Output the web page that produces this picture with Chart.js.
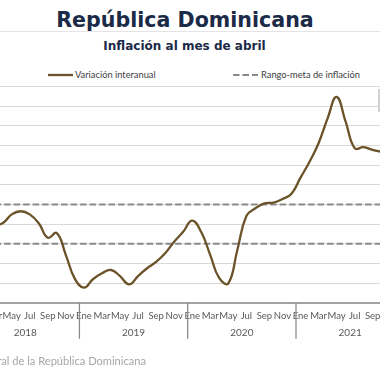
<!DOCTYPE html>
<html>
<head>
<meta charset="utf-8">
<script src="https://cdn.jsdelivr.net/npm/chart.js@4/dist/chart.umd.min.js"></script>
<style>
  html, body { margin: 0; padding: 0; background: #ffffff; }
  body { width: 380px; height: 380px; position: relative; overflow: hidden; }
  #chart { position: absolute; left: -40px; top: 0; }
  .title { position: absolute; left: 0; width: 370px; text-align: center; font-family: 'DejaVu Sans', sans-serif; font-weight: bold; color: #1b2a47; white-space: nowrap; }
  #t1 { top: 7.8px; font-size: 20.6px; line-height: 24px; }
  #t2 { top: 38.8px; font-size: 12px; line-height: 14px; left: 0; width: 369px; }
  #rule { position: absolute; left: 0; top: 31px; width: 380px; height: 1px; background: #e4e4e4; }
  .leg { position: absolute; top: 69px; height: 12px; font-family: 'Lato', sans-serif; font-size: 9.3px; line-height: 12px; color: #404040; white-space: nowrap; }
  #footer { position: absolute; right: 234px; top: 354px; font-family: 'Lato', sans-serif; font-size: 11.1px; line-height: 13px; color: #a6a6a6; white-space: nowrap; text-align: right; }
  #box { position: absolute; left: 378px; top: 89px; width: 2px; height: 23px; background: #d0d0d0; }
</style>
</head>
<body>
<div id="t1" class="title">República Dominicana</div>
<div id="rule"></div>
<div id="t2" class="title">Inflación al mes de abril</div>
<svg style="position:absolute;left:0;top:0" width="380" height="90">
  <line x1="48" y1="75" x2="73" y2="75" stroke="#6b5228" stroke-width="2.3"/>
  <line x1="233" y1="75" x2="258" y2="75" stroke="#8a8a8a" stroke-width="2" stroke-dasharray="6.5 3"/>
</svg>
<div class="leg" style="left:75px">Variación interanual</div>
<div class="leg" style="left:261px">Rango-meta de inflación</div>
<div id="box"></div>
<canvas id="chart" width="480" height="380"></canvas>
<div id="footer">Fuente: Banco Central de la República Dominicana</div>
<script>
// ---- data ----
const months = ['Ene','Feb','Mar','Abr','May','Jun','Jul','Ago','Sep','Oct','Nov','Dic'];
const years = ['2018','2019','2020','2021'];
// Variación interanual del IPC (%), enero 2018 - octubre 2021
const inflation2018 = [4.20, 4.10, 3.95, 4.05, 4.50, 4.66, 4.50, 4.05, 3.31, 3.55, 2.43, 1.22];
const inflation2019 = [0.77, 1.20, 1.50, 1.67, 1.36, 0.94, 1.36, 1.76, 2.08, 2.52, 3.11, 3.62];
const inflation2020 = [4.18, 3.60, 2.43, 1.25, 0.99, 2.69, 4.42, 4.81, 5.06, 5.10, 5.28, 5.55];
const inflation2021 = [6.37, 7.18, 8.12, 9.39, 10.48, 9.22, 7.87, 7.92, 7.78, 7.68];
// Rango-meta de inflación (4% ± 1%)
const targetUpper = [5,5,5,5,5,5,5,5,5,5,5,5, 5,5,5,5,5,5,5,5,5,5,5,5, 5,5,5,5,5,5,5,5,5,5,5,5, 5,5,5,5,5,5,5,5,5,5,5,5];
const targetLower = [3,3,3,3,3,3,3,3,3,3,3,3, 3,3,3,3,3,3,3,3,3,3,3,3, 3,3,3,3,3,3,3,3,3,3,3,3, 3,3,3,3,3,3,3,3,3,3,3,3];
const yMin = 0, yMax = 11, yStep = 1;

const labels = [];
years.forEach(y => months.forEach(m => labels.push(m + ' ' + y)));
const inflation = [].concat(inflation2018, inflation2019, inflation2020, inflation2021);

const yearPlugin = {
  id: 'yearLabels',
  afterDraw(chart) {
    const x = chart.scales.x, ctx = chart.ctx, area = chart.chartArea;
    const step = x.getPixelForValue(1) - x.getPixelForValue(0);
    ctx.save();
    ctx.strokeStyle = '#8c8c8c';
    ctx.lineWidth = 1.3;
    ctx.fillStyle = '#595959';
    ctx.font = '10px Lato';
    ctx.textAlign = 'center';
    ctx.textBaseline = 'middle';
    years.forEach((yr, k) => {
      const start = x.getPixelForValue(k * 12) - step / 2;
      const end = x.getPixelForValue(k * 12 + 11) + step / 2;
      ctx.beginPath();
      ctx.moveTo(start, area.bottom);
      ctx.lineTo(start, area.bottom + 36);
      ctx.stroke();
      ctx.fillText(yr, (start + end) / 2, area.bottom + 30);
    });
    ctx.restore();
  }
};

new Chart(document.getElementById('chart'), {
  type: 'line',
  data: {
    labels: labels,
    datasets: [
      { label: 'Variación interanual', data: inflation, borderColor: '#6b5228', borderWidth: 2.3,
        pointRadius: 0, tension: 0.45, fill: false, order: 0 },
      { label: 'Rango-meta de inflación', data: targetUpper, borderColor: '#8a8a8a', borderWidth: 2,
        borderDash: [6.5, 3], pointRadius: 0, fill: false, order: 1 },
      { label: 'Rango-meta de inflación (inferior)', data: targetLower, borderColor: '#8a8a8a', borderWidth: 2,
        borderDash: [6.5, 3], pointRadius: 0, fill: false, order: 2 }
    ]
  },
  options: {
    responsive: false,
    animation: false,
    events: [],
    layout: { padding: { left: 11.1, right: 35.7, top: 86.7, bottom: 37.2 } },
    plugins: { legend: { display: false }, title: { display: false }, tooltip: { enabled: false } },
    scales: {
      x: {
        type: 'category',
        offset: true,
        grid: { display: false, drawTicks: false },
        border: { display: true, color: '#a3a3a3', width: 2 },
        ticks: {
          autoSkip: false, maxRotation: 0, minRotation: 0, padding: 7,
          color: '#595959', font: { family: 'Lato', size: 9.5 },
          callback: function(v, i) { return i % 2 === 0 ? months[i % 12] : ''; }
        },
        afterFit: s => { s.height = 40; }
      },
      y: {
        min: yMin, max: yMax,
        ticks: { display: false, stepSize: yStep },
        grid: { color: '#d9d9d9', lineWidth: 1, drawTicks: false },
        border: { display: false },
        afterFit: s => { s.width = 0; }
      }
    }
  },
  plugins: [yearPlugin]
});
</script>
</body>
</html>
